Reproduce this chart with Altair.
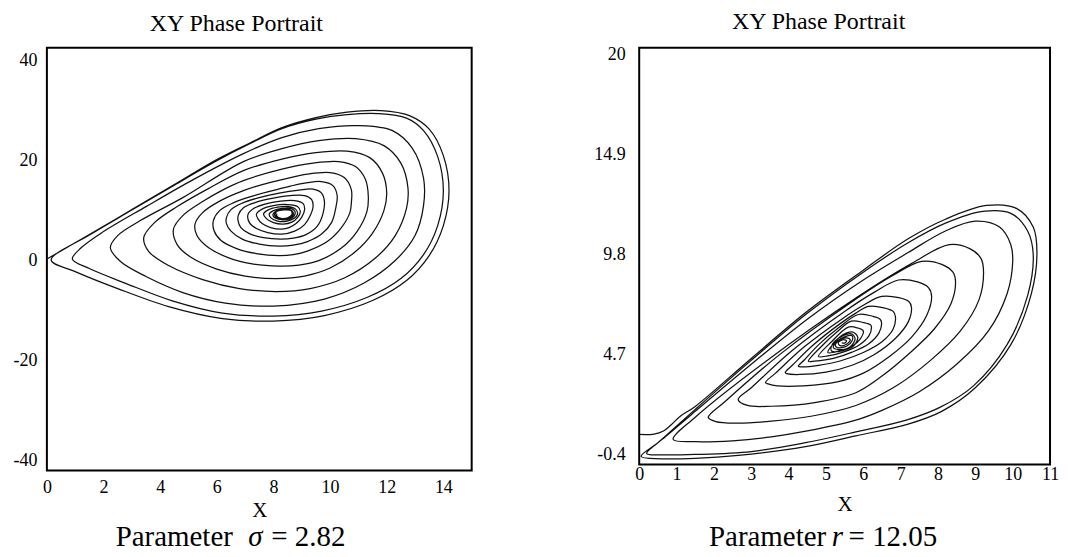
import altair as alt
import pandas as pd

SERIF = "Liberation Serif"

# ---------------- left panel: trajectory points (x, y) ----------------
LEFT_PATH = [
    # loop 1
    (0.0, 0.3), (1.5, 5.2), (3.0, 10.2), (4.5, 15.2), (6.0, 20.2), (7.2, 23.6), (8.3, 26.6),
    (9.5, 28.6), (10.6, 29.7), (11.8, 30.0), (12.8, 29.0), (13.5, 26.3), (14.0, 21.0), (14.2, 14.0),
    (14.0, 7.0), (13.5, 1.0), (12.7, -4.0), (11.5, -8.0), (9.8, -11.0), (8.0, -12.1), (6.2, -11.6),
    (4.3, -9.2), (2.5, -5.6), (1.0, -2.2), (0.15, 0.1),
    # loop 2
    (1.5, 5.1), (3.0, 10.1), (4.5, 15.1), (6.0, 20.0), (7.2, 23.5), (8.3, 26.4), (9.5, 28.3),
    (10.6, 29.2), (11.7, 29.4), (12.7, 28.5), (13.3, 26.0), (13.8, 20.8), (14.0, 14.0), (13.8, 7.0),
    (13.3, 1.2), (12.5, -3.6), (11.3, -7.4), (9.7, -10.1), (8.0, -11.1), (6.2, -10.5), (4.4, -8.0),
    (2.8, -4.6), (1.5, -1.6), (0.9, 0.3),
    # loop 3
    (1.2, 2.5), (2.0, 5.8), (3.5, 10.8), (5.2, 16.3), (6.94, 21.4), (8.3, 24.6), (9.6, 26.4),
    (11.0, 27.0), (12.2, 26.0), (12.9, 22.5), (13.3, 16.5), (13.3, 11.0), (13.0, 5.0), (12.3, 0.0),
    (11.2, -4.5), (9.8, -7.7), (8.0, -9.1), (6.3, -8.5), (4.8, -6.4), (3.5, -3.2), (2.6, -0.2),
    (2.24, 2.6),
    # loop 4
    (2.5, 5.0), (3.3, 8.0), (4.8, 12.6), (6.94, 19.8), (8.3, 22.4), (9.6, 24.0), (10.9, 24.4),
    (11.9, 23.0), (12.5, 19.5), (12.75, 14.5), (12.7, 10.5), (12.3, 5.0), (11.6, 0.5), (10.5, -3.5),
    (9.3, -5.6), (8.1, -6.2), (6.8, -5.6), (5.5, -3.8), (4.3, -1.0), (3.6, 1.8), (3.42, 4.6),
    # loop 5
    (3.8, 7.6), (4.6, 10.8), (5.7, 14.4), (6.94, 18.0), (8.3, 20.3), (9.5, 21.6), (10.6, 21.9),
    (11.4, 20.6), (11.85, 17.5), (12.0, 13.5), (11.9, 10.0), (11.5, 5.5), (10.9, 1.8), (10.0, -1.5),
    (9.1, -3.1), (8.1, -3.6), (7.0, -3.1), (6.0, -1.7), (5.1, 0.6), (4.6, 3.2), (4.47, 6.3),
    # loop 6
    (4.8, 9.0), (5.5, 11.8), (6.2, 14.1), (6.94, 16.0), (8.3, 18.3), (9.4, 19.5), (10.3, 19.8),
    (10.9, 18.8), (11.25, 16.2), (11.35, 12.8), (11.3, 9.8), (10.95, 5.8), (10.4, 2.5), (9.6, 0.0),
    (8.9, -0.9), (8.2, -1.1), (7.3, -0.7), (6.4, 0.6), (5.7, 2.6), (5.3, 5.0), (5.23, 7.3),
    # loop 7
    (5.5, 9.6), (6.1, 11.9), (6.94, 14.0), (7.6, 15.2), (8.3, 16.2), (9.2, 17.3), (10.0, 17.6),
    (10.5, 16.6), (10.75, 14.2), (10.75, 11.5), (10.7, 9.6), (10.4, 6.6), (9.9, 3.8), (9.2, 1.9),
    (8.7, 1.2), (8.2, 1.0), (7.4, 1.4), (6.7, 2.4), (6.15, 4.0), (5.9, 6.0), (5.88, 8.0),
    # loop 8
    (6.1, 10.0), (6.6, 11.6), (7.2, 12.8), (7.9, 13.9), (8.6, 14.9), (9.2, 15.6), (9.7, 15.8),
    (10.1, 15.0), (10.25, 13.0), (10.2, 10.5), (10.05, 7.6), (9.7, 5.3), (9.2, 3.8), (8.7, 3.1),
    (8.2, 2.9), (7.5, 3.3), (6.9, 4.3), (6.5, 5.9), (6.34, 7.4), (6.34, 8.6),
    # loop 9
    (6.5, 10.2), (6.9, 11.5), (7.5, 12.6), (8.2, 13.5), (8.9, 14.1), (9.4, 14.3), (9.7, 13.5),
    (9.8, 11.8), (9.75, 9.4), (9.55, 6.9), (9.15, 5.2), (8.7, 4.5), (8.25, 4.3), (7.65, 4.6),
    (7.15, 5.4), (6.85, 6.6), (6.75, 8.0), (6.76, 9.1),
    # loop 10
    (6.95, 10.6), (7.4, 11.7), (8.0, 12.5), (8.6, 13.0), (9.1, 13.0), (9.35, 12.2), (9.4, 10.8),
    (9.3, 9.0), (9.1, 7.2), (8.75, 5.9), (8.3, 5.3), (7.8, 5.6), (7.4, 6.4), (7.15, 7.6), (7.1, 9.2),
    # loop 11
    (7.3, 10.4), (7.7, 11.3), (8.25, 11.9), (8.75, 12.0), (9.05, 11.4), (9.1, 10.2), (9.0, 8.7),
    (8.8, 7.4), (8.55, 6.6), (8.3, 6.3), (7.9, 6.6), (7.6, 7.4), (7.45, 8.4), (7.4, 9.3),
    # loop 12
    (7.6, 10.3), (8.0, 11.0), (8.5, 11.2), (8.85, 10.8), (8.95, 9.8), (8.85, 8.6), (8.65, 7.7),
    (8.35, 7.3), (8.0, 7.6), (7.75, 8.4), (7.65, 9.3),
    # dense core
    (7.8, 10.1), (8.15, 10.7), (8.55, 10.8), (8.78, 10.3), (8.85, 9.3), (8.72, 8.4), (8.45, 7.85),
    (8.15, 7.9), (7.92, 8.5), (7.85, 9.3),
    (8.0, 10.0), (8.3, 10.45), (8.62, 10.45), (8.76, 9.8), (8.74, 9.0), (8.58, 8.35), (8.32, 8.15),
    (8.08, 8.45), (7.98, 9.1),
    (8.05, 9.7), (8.25, 10.2), (8.56, 10.25), (8.7, 9.6), (8.66, 8.8), (8.45, 8.35), (8.17, 8.45),
    (8.04, 9.1),
    (8.1, 9.8), (8.32, 10.15), (8.6, 10.15), (8.68, 9.4), (8.56, 8.6), (8.3, 8.38), (8.1, 8.7),
    (8.06, 9.3),
    (8.14, 9.9), (8.38, 10.12), (8.62, 10.0), (8.65, 9.2), (8.5, 8.55), (8.26, 8.45), (8.12, 8.9),
    (8.12, 9.4),
]

# ---------------- right panel ----------------
RIGHT_PATH = [
    # loop A (start)
    (0.0, 0.62), (0.4, 0.64), (0.65, 0.8), (0.85, 1.1), (1.1, 1.55), (1.5, 2.05), (3.0, 4.5),
    (4.5, 6.9), (6.0, 9.0), (7.2, 10.6), (8.2, 11.6), (9.3, 12.3), (10.1, 12.15), (10.55, 11.2),
    (10.65, 9.9), (10.5, 7.8), (9.95, 5.2), (9.0, 3.0), (8.1, 1.8), (7.2, 1.15), (5.8, 0.55),
    (4.45, 0.0), (2.65, -0.45), (1.5, -0.6), (0.6, -0.62), (0.05, -0.5),
    # loop B
    (0.5, 0.2), (1.5, 1.9), (3.0, 4.4), (4.5, 6.8), (6.0, 8.9), (7.2, 10.4), (8.2, 11.4),
    (9.2, 12.0), (9.95, 11.9), (10.4, 11.0), (10.55, 9.8), (10.4, 7.7), (9.85, 5.2), (8.95, 3.1),
    (8.05, 2.0), (7.15, 1.35), (5.8, 0.75), (4.45, 0.2), (3.0, -0.25), (1.5, -0.4), (0.6, -0.42),
    (0.2, -0.35),
    # loop C
    (0.7, 0.5), (1.5, 1.8), (3.0, 4.2), (4.5, 6.5), (6.0, 8.5), (7.2, 9.9), (8.2, 11.0),
    (9.0, 11.5), (9.65, 11.2), (9.95, 10.3), (10.0, 9.4), (9.85, 7.8), (9.35, 5.9), (8.5, 4.2),
    (7.5, 2.8), (6.5, 1.85), (5.8, 1.35), (4.5, 0.8), (3.54, 0.5), (2.5, 0.3), (1.5, 0.25),
    (0.91, 0.37),
    # loop D
    (1.5, 1.5), (3.37, 4.32), (5.84, 7.63), (7.3, 9.35), (8.3, 10.3), (8.85, 10.1), (9.15, 9.6),
    (9.22, 8.9), (9.1, 7.5), (8.6, 5.9), (7.8, 4.4), (6.8, 3.0), (5.8, 2.1), (4.6, 1.55),
    (3.54, 1.3), (2.6, 1.2), (2.05, 1.28), (1.85, 1.49),
    # loop E
    (2.3, 2.3), (3.75, 4.68), (5.66, 7.34), (6.8, 8.74), (7.56, 9.45), (8.1, 9.3), (8.4, 8.9),
    (8.47, 8.4), (8.35, 7.3), (7.9, 6.0), (7.2, 4.7), (6.5, 3.6), (5.8, 2.75), (4.7, 2.25),
    (3.54, 2.06), (2.9, 2.1), (2.65, 2.4),
    # loop F
    (3.0, 3.0), (4.08, 4.88), (5.51, 6.91), (6.3, 7.88), (6.94, 8.5), (7.45, 8.4), (7.75, 8.1),
    (7.83, 7.66), (7.7, 6.7), (7.3, 5.6), (6.7, 4.6), (6.0, 3.75), (5.3, 3.3), (4.4, 3.1),
    (3.7, 3.1), (3.45, 3.2), (3.38, 3.27),
    # loop G
    (3.65, 3.75), (4.42, 5.09), (5.45, 6.54), (6.0, 7.21), (6.49, 7.66), (6.95, 7.6), (7.22, 7.4),
    (7.29, 7.1), (7.2, 6.35), (6.85, 5.5), (6.3, 4.7), (5.7, 4.15), (5.0, 3.8), (4.3, 3.68),
    (3.95, 3.72), (3.91, 3.78),
    # loop H
    (4.1, 4.15), (4.65, 5.17), (5.4, 6.3), (5.8, 6.81), (6.14, 7.15), (6.55, 7.08), (6.8, 6.9),
    (6.86, 6.64), (6.8, 6.0), (6.5, 5.35), (6.0, 4.8), (5.4, 4.38), (4.8, 4.15), (4.35, 4.07),
    (4.26, 4.1),
    # loop I
    (4.42, 4.42), (4.8, 5.19), (5.33, 6.05), (5.87, 6.74), (6.25, 6.65), (6.45, 6.5), (6.49, 6.3),
    (6.42, 5.8), (6.15, 5.25), (5.7, 4.82), (5.2, 4.5), (4.7, 4.36), (4.53, 4.35),
    # loop J
    (4.91, 5.17), (5.3, 5.86), (5.68, 6.4), (6.0, 6.33), (6.2, 6.2), (6.22, 6.08), (6.15, 5.65),
    (5.9, 5.2), (5.5, 4.85), (5.05, 4.63), (4.8, 4.6),
    # loop K
    (5.15, 5.35), (5.6, 6.1), (5.85, 6.05), (6.0, 5.9), (5.92, 5.5), (5.7, 5.12), (5.35, 4.88),
    (5.05, 4.8),
    # dense core
    (5.2, 5.25), (5.45, 5.7), (5.7, 5.85), (5.85, 5.6), (5.75, 5.15), (5.45, 4.9), (5.15, 4.88),
    (5.18, 5.25), (5.42, 5.62), (5.68, 5.75), (5.78, 5.5), (5.65, 5.1), (5.35, 4.95), (5.2, 5.05),
    (5.28, 5.35), (5.5, 5.6), (5.7, 5.65), (5.7, 5.4), (5.55, 5.12), (5.3, 5.05), (5.25, 5.2),
    (5.35, 5.42), (5.55, 5.55), (5.65, 5.45), (5.55, 5.22), (5.38, 5.15), (5.33, 5.3),
    (5.45, 5.45), (5.55, 5.4), (5.5, 5.28), (5.42, 5.3),
]

LEFT_XTICKS = [0, 2, 4, 6, 8, 10, 12, 14]
LEFT_YTICKS = [-40, -20, 0, 20, 40]
RIGHT_XTICKS = [0, 1, 2, 3, 4, 5, 6, 7, 8, 9, 10, 11]
RIGHT_YTICKS = [-0.4, 4.7, 9.8, 14.9, 20]

TITLE_TEXT = "XY Phase Portrait"
CAPTION_WORD = "Parameter"
LEFT_SYMBOL, LEFT_VALUE = "σ", "= 2.82"
RIGHT_SYMBOL, RIGHT_VALUE = "r", "= 12.05"


def text_layer(txt, x, y, size, align="left", style="normal", baseline="alphabetic"):
    return alt.Chart(pd.DataFrame({"t": [txt]})).mark_text(
        font=SERIF, fontSize=size, color="black", align=align,
        baseline=baseline, fontStyle=style
    ).encode(x=alt.value(x), y=alt.value(y), text="t:N")


def panel(path, xdom, ydom, xticks, yticks, w, h, symbol, value,
          cap_xs, cap_y, title_x, title_y, xlab_pad, xtitle_pad, ylab_pad):
    df = pd.DataFrame({
        "i": list(range(len(path))),
        "x": [p[0] for p in path],
        "y": [p[1] for p in path],
    })
    common = dict(domain=False, ticks=False, tickSize=0, grid=False,
                  labelFont=SERIF, labelFontSize=18, labelColor="black",
                  labelExpr="toString(datum.value)", labelFlush=False,
                  labelOverlap=False)
    line = alt.Chart(df).mark_line(
        interpolate="catmull-rom", color="#111111", strokeWidth=1.25
    ).encode(
        x=alt.X("x:Q", scale=alt.Scale(domain=xdom, nice=False, zero=False),
                axis=alt.Axis(values=xticks, title="X", titleFont=SERIF,
                              titleFontSize=21, titleFontWeight="normal",
                              titleColor="black", titlePadding=xtitle_pad,
                              labelPadding=xlab_pad, **common)),
        y=alt.Y("y:Q", scale=alt.Scale(domain=ydom, nice=False, zero=False),
                axis=alt.Axis(values=yticks, labelPadding=ylab_pad, **common),
                title=None),
        order=alt.Order("i:Q"),
    )
    title = text_layer(TITLE_TEXT, title_x, title_y, 24, align="center")
    c1 = text_layer(CAPTION_WORD, cap_xs[0], cap_y, 29)
    c2 = text_layer(symbol, cap_xs[1], cap_y, 29, style="italic")
    c3 = text_layer(value, cap_xs[2], cap_y, 29)
    return alt.layer(line, title, c1, c2, c3).properties(width=w, height=h)


left = panel(LEFT_PATH, [0, 15], [-42, 42.6], LEFT_XTICKS, LEFT_YTICKS,
             426, 424, LEFT_SYMBOL, LEFT_VALUE, (69, 202, 225), 500,
             190, -17, 8, 3, 10)
right = panel(RIGHT_PATH, [0, 11], [-0.91, 20.35], RIGHT_XTICKS, RIGHT_YTICKS,
              412, 418, RIGHT_SYMBOL, RIGHT_VALUE, (70, 193, 210), 500,
              180, -19, 1, 10, 14)

chart = alt.hconcat(left, right, spacing=120).properties(
    padding={"left": 4, "top": 0, "right": 0, "bottom": 0}
).configure_view(stroke="black", strokeWidth=2)

chart.save("out.html", embed_options={"renderer": "svg", "actions": False})
